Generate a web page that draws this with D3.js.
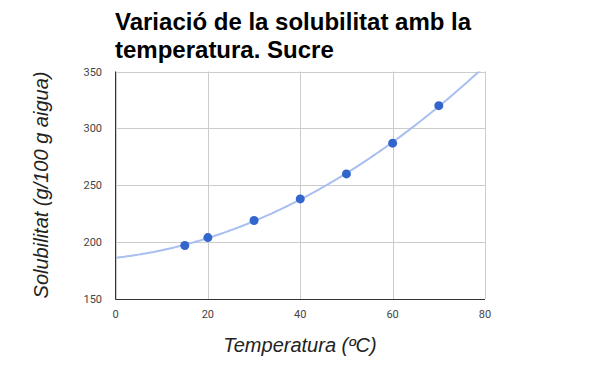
<!DOCTYPE html>
<html><head><meta charset="utf-8">
<script src="https://cdn.jsdelivr.net/npm/d3@7"></script>
<style>body{margin:0;background:#fff}svg{display:block}</style>
</head><body>
<svg id="c" width="600" height="371"></svg>
<script>
const temperatures = [15, 20, 30, 40, 50, 60, 70];
const solubility = [197, 204, 219, 238, 260, 287, 320];
const xTicks = [0, 20, 40, 60, 80];
const yTicks = [150, 200, 250, 300, 350];
const titleLines = ["Variació de la solubilitat amb la", "temperatura. Sucre"];
const xTitle = "Temperatura (ºC)";
const yTitle = "Solubilitat (g/100 g aigua)";
const trendDegree = 2;

const svg = d3.select("#c");
const L = 115.5, R = 485, T = 71.5, B = 299;
const x = d3.scaleLinear().domain([0, 80]).range([L, R]);
const y = d3.scaleLinear().domain([150, 350]).range([B, T]);

// grid
svg.append("g").selectAll("line").data(xTicks).join("line")
  .attr("x1", d => Math.round(x(d)) + 0.5).attr("x2", d => Math.round(x(d)) + 0.5)
  .attr("y1", T).attr("y2", B).attr("stroke", "#cccccc");
svg.append("g").selectAll("line").data(yTicks).join("line")
  .attr("y1", d => Math.round(y(d)) + 0.5).attr("y2", d => Math.round(y(d)) + 0.5)
  .attr("x1", L).attr("x2", R).attr("stroke", "#cccccc");

// polynomial least squares
function polyfit(xs, ys, deg) {
  const n = deg + 1;
  const A = Array.from({length: n}, () => new Array(n + 1).fill(0));
  for (let i = 0; i < xs.length; i++) {
    for (let r = 0; r < n; r++) {
      for (let c = 0; c < n; c++) A[r][c] += Math.pow(xs[i], r + c);
      A[r][n] += ys[i] * Math.pow(xs[i], r);
    }
  }
  for (let i = 0; i < n; i++) {
    let p = i;
    for (let k = i + 1; k < n; k++) if (Math.abs(A[k][i]) > Math.abs(A[p][i])) p = k;
    [A[i], A[p]] = [A[p], A[i]];
    for (let k = 0; k < n; k++) if (k !== i) {
      const f = A[k][i] / A[i][i];
      for (let c = i; c <= n; c++) A[k][c] -= f * A[i][c];
    }
  }
  return A.map((row, i) => row[n] / row[i]);
}
const coef = polyfit(temperatures, solubility, trendDegree);
const f = t => coef.reduce((s, c, i) => s + c * Math.pow(t, i), 0);
const trend = d3.range(0, 80.01, 0.5).map(t => [t, f(t)]);

svg.append("clipPath").attr("id", "clip").append("rect")
  .attr("x", L).attr("y", T).attr("width", R - L).attr("height", B - T);
svg.append("path").datum(trend).attr("clip-path", "url(#clip)")
  .attr("fill", "none").attr("stroke", "#a8bff0").attr("stroke-width", 2)
  .attr("d", d3.line().x(d => x(d[0])).y(d => y(d[1])));

// axes lines
svg.append("line").attr("x1", L).attr("x2", L).attr("y1", T).attr("y2", B + 0.5).attr("stroke", "#333").attr("stroke-width", 1);
svg.append("line").attr("x1", L).attr("x2", R).attr("y1", B + 0.5).attr("y2", B + 0.5).attr("stroke", "#333").attr("stroke-width", 1);

// points
svg.append("g").selectAll("circle").data(temperatures).join("circle")
  .attr("cx", d => x(d)).attr("cy", (d, i) => y(solubility[i])).attr("r", 4.5)
  .attr("fill", "#3366cc");

// tick labels
const tickFont = "Roboto, Arial, sans-serif";
svg.append("g").selectAll("text").data(xTicks).join("text")
  .attr("x", d => x(d)).attr("y", 318).attr("text-anchor", "middle")
  .attr("font-family", tickFont).attr("font-size", 11).attr("fill", "#444")
  .text(d => d);
svg.append("g").selectAll("text").data(yTicks).join("text")
  .attr("x", 102).attr("y", d => y(d) + 4).attr("text-anchor", "end")
  .attr("font-family", tickFont).attr("font-size", 11).attr("fill", "#444")
  .text(d => d);

// titles
svg.append("g").selectAll("text").data(titleLines).join("text")
  .attr("x", 115).attr("y", (d, i) => 30 + i * 28)
  .attr("font-family", "Liberation Sans, Arial, sans-serif").attr("font-weight", "bold")
  .attr("font-size", 24).attr("fill", "#000").text(d => d);

svg.append("text").attr("x", 300).attr("y", 352).attr("text-anchor", "middle")
  .attr("font-family", "Liberation Sans, Arial, sans-serif").attr("font-style", "italic")
  .attr("font-size", 20).attr("fill", "#222").text(xTitle);

svg.append("text").attr("transform", "translate(48,185) rotate(-90)").attr("text-anchor", "middle")
  .attr("font-family", "Liberation Sans, Arial, sans-serif").attr("font-style", "italic")
  .attr("font-size", 20).attr("fill", "#222").text(yTitle);
</script>
</body></html>
